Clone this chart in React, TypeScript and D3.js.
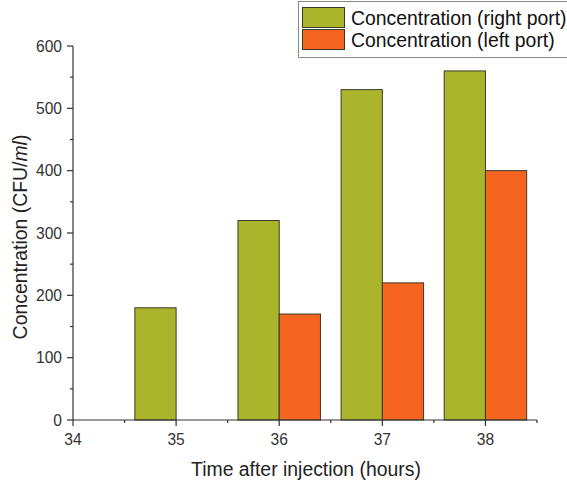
import React from "react";
import * as d3 from "d3";

const hours = [35, 36, 37, 38];
const rightPort = [180, 320, 530, 560];
const leftPort = [0, 170, 220, 400];
const seriesNames = ["Concentration (right port)", "Concentration (left port)"];
const xTicks = [34, 35, 36, 37, 38];
const yTicks = [0, 100, 200, 300, 400, 500, 600];

const W = 567, H = 484;
const green = "#abb52b";
const orange = "#f5651f";
const font = "'Liberation Sans', Arial, sans-serif";

export default function App() {
  const x = d3.scaleLinear().domain([34, 38.5]).range([73, 537]);
  const y = d3.scaleLinear().domain([0, 600]).range([420, 46]);
  const bw = 0.4;
  const xMinor = d3.range(34.5, 38.6, 1);
  const yMinor = d3.range(50, 600, 100);
  const axisColor = "#333";
  return (
    <svg width={W} height={H} style={{ position: "absolute", left: 0, top: 0 }}>
      <rect width={W} height={H} fill="#fff" />
      {hours.map((h, i) => (
        <g key={h}>
          {rightPort[i] > 0 && (
            <rect x={x(h - bw)} y={y(rightPort[i])} width={x(h) - x(h - bw)} height={y(0) - y(rightPort[i])}
              fill={green} stroke="#3a3a2a" strokeWidth={1} />
          )}
          {leftPort[i] > 0 && (
            <rect x={x(h)} y={y(leftPort[i])} width={x(h + bw) - x(h)} height={y(0) - y(leftPort[i])}
              fill={orange} stroke="#3a3a2a" strokeWidth={1} />
          )}
        </g>
      ))}
      <line x1={73} x2={73} y1={y(0)} y2={y(600)} stroke={axisColor} strokeWidth={1.2} />
      {yTicks.map(t => (
        <g key={t}>
          <line x1={67} x2={73} y1={y(t)} y2={y(t)} stroke={axisColor} strokeWidth={1.2} />
          <text x={62} y={y(t)} dy="0.36em" textAnchor="end" fontSize={15.6} fill="#333" fontFamily={font}>{t}</text>
        </g>
      ))}
      {yMinor.map(t => (
        <line key={t} x1={70} x2={73} y1={y(t)} y2={y(t)} stroke={axisColor} strokeWidth={1.2} />
      ))}
      <line x1={x(34)} x2={x(38.5)} y1={420} y2={420} stroke={axisColor} strokeWidth={1.2} />
      {xTicks.map(t => (
        <g key={t}>
          <line x1={x(t)} x2={x(t)} y1={420} y2={426} stroke={axisColor} strokeWidth={1.2} />
          <text x={x(t)} y={445} textAnchor="middle" fontSize={15.6} fill="#333" fontFamily={font}>{t}</text>
        </g>
      ))}
      {xMinor.map(t => (
        <line key={t} x1={x(t)} x2={x(t)} y1={420} y2={423} stroke={axisColor} strokeWidth={1.2} />
      ))}
      <text x={306} y={476} textAnchor="middle" fontSize={19.4} fill="#222" fontFamily={font}>Time after injection (hours)</text>
      <text transform={`translate(27,${237}) rotate(-90)`} textAnchor="middle" fontSize={19.4} fill="#222" fontFamily={font}>
        Concentration (CFU/<tspan fontStyle="italic">ml</tspan>)
      </text>
      <rect x={298.5} y={1.5} width={270} height={56} fill="#fff" stroke="#888" strokeWidth={1} />
      {seriesNames.map((n, i) => (
        <g key={n}>
          <rect x={302.5} y={7.5 + i * 22} width={42} height={20} fill={i === 0 ? green : orange} stroke="#3a3a2a" strokeWidth={1} />
          <text x={351} y={18 + i * 22} dy="0.36em" fontSize={19.4} fill="#111" fontFamily={font}>{n}</text>
        </g>
      ))}
    </svg>
  );
}
